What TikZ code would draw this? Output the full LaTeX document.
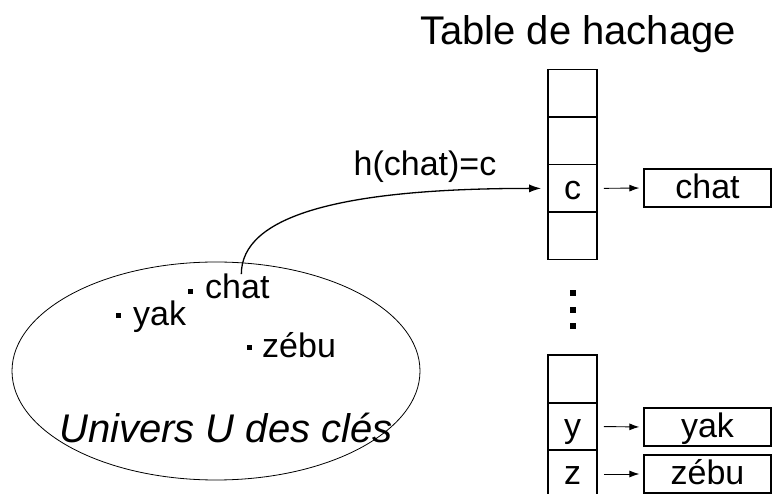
\documentclass[tikz,border=0pt]{standalone}
\usepackage{fontspec}
\setmainfont{Liberation Sans}
\usetikzlibrary{shapes.geometric,arrows.meta}

\tikzset{
  boxtext/.style={font=\fontsize{34}{40}\selectfont, text height=24.5pt, text depth=2.5pt},
  cell/.style={draw, line width=1.6pt, rectangle, minimum width=49pt, minimum height=47.5pt,
               inner sep=0pt, boxtext},
  entry/.style={draw, line width=1.3pt, rectangle, minimum width=127pt, minimum height=38pt,
                inner sep=0pt, boxtext},
  lbl/.style={inner sep=0pt, font=\fontsize{34}{40}\selectfont},
  keydot/.style={fill, rectangle, minimum size=5pt, inner sep=0pt},
  vdot/.style={fill, rectangle, minimum size=6pt, inner sep=0pt},
  link/.style={line width=0.9pt, -{Latex[length=10pt,width=7pt]}, shorten <=6pt, shorten >=4pt},
  hash/.style={line width=1.3pt, -{Latex[length=12pt,width=8pt]}, shorten >=6pt}
}

\begin{document}
\begin{tikzpicture}[x=1pt,y=-1pt]
\useasboundingbox (0,0) rectangle (772,494);

% title
\node[lbl, font=\fontsize{40}{46}\selectfont, anchor=base] (title) at (578,45) {Table de hachage};

% upper part of the table
\node[cell] (t1) at (572.5,93.4) {};
\node[cell] (t2) at (572.5,140.9) {};
\node[cell] (t3) at (572.5,188.4) {c};
\node[cell] (t4) at (572.5,235.9) {};

% ellipsis between the two parts
\node[vdot] (d1) at (573,293) {};
\node[vdot] (d2) at (573,310) {};
\node[vdot] (d3) at (573,326) {};

% lower part of the table
\node[cell] (b1) at (572.5,379) {};
\node[cell] (b2) at (572.5,426.5) {y};
\node[cell] (b3) at (572.5,474) {z};

% stored keys
\node[entry] (echat) at (707.5,188) {chat};
\node[entry] (eyak)  at (707.5,427) {yak};
\node[entry] (ezebu) at (707.5,474) {zébu};

\draw[link] (t3.east) -- (echat.west);
\draw[link] (b2.east) -- (eyak.west);
\draw[link] (b3.east) -- (ezebu.west);

% universe of keys
\node[draw, ellipse, line width=0.8pt, minimum width=408pt, minimum height=218pt, inner sep=0pt]
  (univ) at (216,371) {};
\node[lbl, font=\fontsize{40}{46}\itshape\selectfont, anchor=base] (ulabel) at (226,443) {Univers U des clés};

\node[keydot] (pchat) at (190,292) {};
\node[lbl, anchor=base west] (chat) at (205,299) {chat};
\node[keydot] (pyak) at (118,316) {};
\node[lbl, anchor=base west] (yak) at (133,326) {yak};
\node[keydot] (pzebu) at (249,348) {};
\node[lbl, anchor=base west] (zebu) at (262,358) {zébu};

% hash function arrow
\draw[hash] ([xshift=4pt]chat.north) .. controls +(0,-58) and +(-208,0) .. (t3.west);
\node[lbl] (hlabel) at (425,167) {h(chat)=c};
\end{tikzpicture}
\end{document}
